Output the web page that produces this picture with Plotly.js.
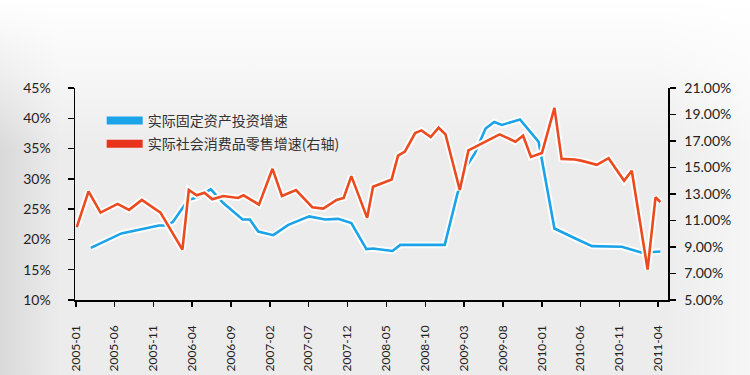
<!DOCTYPE html>
<html>
<head>
<meta charset="utf-8">
<script src="https://cdn.plot.ly/plotly-3.0.1.min.js"></script>
<style>
  html, body { margin: 0; padding: 0; }
  body {
    width: 750px; height: 375px; overflow: hidden;
    background:
      linear-gradient(to bottom, rgba(255,255,255,1) 0%, rgba(255,255,255,0.6) 18%, rgba(255,255,255,0) 40%),
      linear-gradient(to right, #d9d9d9 0%, #ececec 8%, #ececec 88%, #f6f6f6 100%);
  }
  #chart { width: 750px; height: 375px; }
</style>
</head>
<body>
<div id="chart"></div>
<script>
// Tick labels on the x axis
const tickMonths = ['2005-01','2005-06','2005-11','2006-04','2006-09','2007-02','2007-07','2007-12',
                    '2008-05','2008-10','2009-03','2009-08','2010-01','2010-06','2010-11','2011-04'];

// 实际固定资产投资增速 (left axis, %)
const fixedDates = ['2005-02-28','2005-06-28','2005-11-22','2005-12-22','2006-01-16','2006-03-16','2006-04-25',
  '2006-06-13','2006-08-01','2006-10-16','2006-11-13','2006-12-16','2007-02-13','2007-04-13','2007-07-04',
  '2007-09-04','2007-10-25','2007-12-16','2008-02-13','2008-03-10','2008-05-25','2008-06-25','2008-12-16',
  '2009-02-04','2009-03-10','2009-04-13','2009-05-25','2009-06-28','2009-07-28','2009-10-07','2009-12-19',
  '2010-02-19','2010-05-10','2010-07-16','2010-11-10','2011-01-28','2011-04-10'];
const fixedValues = [18.6,21.0,22.3,22.3,22.9,26.5,27.0,28.3,26.0,23.3,23.3,21.3,20.7,22.4,23.8,
  23.3,23.4,22.7,18.4,18.5,18.1,19.1,19.1,27.6,32.0,34.2,38.3,39.4,38.9,39.8,36.1,
  21.8,20.2,18.9,18.8,17.8,18.0];

// 实际社会消费品零售增速 (right axis, %)
const retailDates = ['2005-01-04','2005-02-19','2005-04-07','2005-06-13','2005-07-28','2005-09-16','2005-11-28',
  '2006-02-22','2006-03-19','2006-04-19','2006-05-19','2006-06-19','2006-08-01','2006-09-28','2006-10-19',
  '2006-12-19','2007-02-10','2007-03-19','2007-05-13','2007-07-16','2007-08-28','2007-10-19','2007-11-16',
  '2007-12-16','2008-02-16','2008-03-10','2008-05-22','2008-06-16','2008-07-13','2008-08-22','2008-09-16',
  '2008-10-22','2008-11-22','2008-12-19','2009-02-13','2009-03-19','2009-07-19','2009-09-19','2009-10-19',
  '2009-11-19','2010-01-01','2010-02-19','2010-03-19','2010-05-10','2010-06-07','2010-08-04','2010-09-19',
  '2010-11-19','2010-12-19','2011-02-19','2011-03-22','2011-04-10'];
const retailValues = [10.5,13.2,11.6,12.25,11.8,12.55,11.6,8.8,13.3,12.9,13.1,12.6,12.85,12.7,12.9,
  12.2,14.9,12.85,13.3,12.0,11.9,12.55,12.7,14.35,11.2,13.55,14.1,15.9,16.2,17.6,17.8,
  17.3,18.0,17.5,13.3,16.3,17.5,16.95,17.4,15.8,16.1,19.5,15.65,15.6,15.5,15.2,15.7,
  14.0,14.75,7.3,12.75,12.4];

const seriesNames = ['实际固定资产投资增速', '实际社会消费品零售增速(右轴)'];
const blue = '#1aa3e8';
const red = '#ec4a1f';

const traces = [
  {x: fixedDates, y: fixedValues, mode: 'lines', yaxis: 'y', showlegend: false, hoverinfo: 'skip',
   line: {color: 'rgba(255,255,255,0.95)', width: 6.5}},
  {x: fixedDates, y: fixedValues, mode: 'lines', yaxis: 'y', showlegend: false, name: seriesNames[0],
   line: {color: blue, width: 2.6}},
  {x: retailDates, y: retailValues, mode: 'lines', yaxis: 'y2', showlegend: false, hoverinfo: 'skip',
   line: {color: 'rgba(255,255,255,0.95)', width: 6.5}},
  {x: retailDates, y: retailValues, mode: 'lines', yaxis: 'y2', showlegend: false, name: seriesNames[1],
   line: {color: red, width: 2.6}},
  // legend swatches
  {x: [null], y: [null], mode: 'lines', name: seriesNames[0], legendgroup: 'a', line: {color: blue, width: 8}},
  {x: [null], y: [null], mode: 'lines', name: seriesNames[1], legendgroup: 'b', line: {color: '#e8341c', width: 8}}
];

const tickFont = {family: 'Lato, "Noto Sans CJK SC", sans-serif', size: 14, color: '#222'};

const layout = {
  width: 750, height: 375,
  margin: {l: 75, r: 82, t: 88, b: 75},
  paper_bgcolor: 'rgba(0,0,0,0)',
  plot_bgcolor: 'rgba(0,0,0,0)',
  font: {family: '"Noto Sans CJK SC", sans-serif', color: '#222'},
  showlegend: true,
  legend: {x: 0.045, y: 0.92, xanchor: 'left', yanchor: 'top', bgcolor: 'rgba(0,0,0,0)',
           font: {family: '"Noto Sans CJK SC", sans-serif', size: 14, color: '#333'},
           itemwidth: 36, tracegroupgap: 2, traceorder: 'grouped'},
  xaxis: {
    type: 'date', range: ['2004-12-28', '2011-05-10'],
    tickvals: tickMonths, ticktext: tickMonths, tickangle: -90,
    ticks: 'outside', ticklen: 5, tickcolor: '#000', tickwidth: 1.5,
    showline: true, linecolor: '#000', linewidth: 1.5,
    showgrid: false, zeroline: false, ticklabelstandoff: 14,
    tickfont: {family: tickFont.family, size: 12, color: '#222'}
  },
  yaxis: {
    range: [10, 45], dtick: 5, tick0: 10, ticksuffix: '%',
    ticks: 'outside', ticklen: 6, tickcolor: '#000', tickwidth: 1.5,
    showline: true, linecolor: '#000', linewidth: 1.5,
    showgrid: false, zeroline: false, ticklabelstandoff: 14,
    tickfont: tickFont
  },
  yaxis2: {
    overlaying: 'y', side: 'right',
    range: [5, 21], dtick: 2, tick0: 5, tickformat: '.2f', ticksuffix: '%',
    ticks: 'outside', ticklen: 6, tickcolor: '#000', tickwidth: 1.5,
    showline: true, linecolor: '#000', linewidth: 1.5,
    showgrid: false, zeroline: false, ticklabelstandoff: 6,
    tickfont: tickFont
  }
};

Plotly.newPlot('chart', traces, layout, {displayModeBar: false, staticPlot: true});
</script>
</body>
</html>
